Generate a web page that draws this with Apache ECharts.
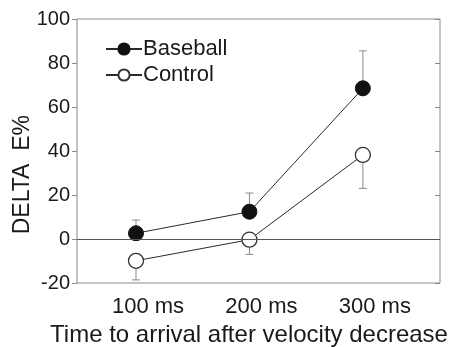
<!DOCTYPE html>
<html><head><meta charset="utf-8">
<script src="https://cdn.jsdelivr.net/npm/echarts@6/dist/echarts.min.js"></script>
<style>html,body{margin:0;padding:0;background:#fff}#c{width:456px;height:347px}</style>
</head><body><div id="c"></div>
<script>
const times = [100, 200, 300];
const tickLabels = ['100 ms', '200 ms', '300 ms'];
const baseball = [2.6, 12.4, 68.5];
const baseballErrUp = [6.0, 8.5, 17.0];
const control = [-9.9, -0.3, 38.2];
const controlErrDown = [8.7, 6.7, 15.2];

const FONT = 'Liberation Sans, Arial, sans-serif';
const chart = echarts.init(document.getElementById('c'), null, {renderer: 'canvas'});

function errData(means, errs, sign) {
  return times.map((t, i) => [t, means[i], means[i] + sign * errs[i]]);
}
function errRender(params, api) {
  const x = api.value(0);
  const p0 = api.coord([x, api.value(1)]);
  const p1 = api.coord([x, api.value(2)]);
  const cw = 4;
  const st = {stroke: '#8a8a8a', lineWidth: 1};
  return {type: 'group', children: [
    {type: 'line', shape: {x1: p0[0], y1: p0[1], x2: p1[0], y2: p1[1]}, style: st},
    {type: 'line', shape: {x1: p1[0] - cw, y1: p1[1], x2: p1[0] + cw, y2: p1[1]}, style: st}
  ]};
}

chart.setOption({
  animation: false,
  grid: {left: 77, right: 16, top: 19, bottom: 64, show: true, borderColor: '#8a8a8a', borderWidth: 1,
    containLabel: false, outerBoundsMode: 'none'},
  legend: {
    orient: 'vertical', left: 100, top: 33, itemGap: 4, itemWidth: 36, itemHeight: 14,
    textStyle: {fontFamily: FONT, fontSize: 22, color: '#1a1a1a', padding: [0, 0, 0, -4]},
    data: ['Baseball', 'Control']
  },
  xAxis: {
    type: 'value', min: 48, max: 368,
    axisLine: {show: false}, axisTick: {show: false}, splitLine: {show: false},
    axisLabel: {customValues: times, formatter: v => tickLabels[times.indexOf(v)], margin: 13,
      fontFamily: FONT, fontSize: 22, color: '#1a1a1a', padding: [0, 0, 0, 24]},
    name: 'Time to arrival after velocity decrease', nameLocation: 'middle', nameGap: 37,
    nameTextStyle: {fontFamily: FONT, fontSize: 24, color: '#1a1a1a', padding: [0, 19, 0, 0]}
  },
  yAxis: [{
    type: 'value', min: -20, max: 100, interval: 20,
    axisLine: {show: false}, splitLine: {show: false},
    axisTick: {show: true, inside: false, length: 5, lineStyle: {color: '#8a8a8a'}},
    axisLabel: {margin: 7, fontFamily: FONT, fontSize: 20, color: '#1a1a1a', formatter: v => String(v)}
  }, {
    type: 'value', position: 'right', min: -20, max: 100, interval: 20,
    axisLine: {show: false}, splitLine: {show: false},
    axisTick: {show: true, inside: true, length: 5, lineStyle: {color: '#8a8a8a'}},
    axisLabel: {show: false}
  }],
  graphic: [{
    type: 'text', left: 11, top: 115, rotation: Math.PI / 2,
    style: {text: 'DELTA  E%', fontFamily: FONT, fontSize: 23, fill: '#1a1a1a'}
  }],
  series: [
    {type: 'custom', data: errData(baseball, baseballErrUp, 1), renderItem: errRender, z: 1, silent: true},
    {type: 'custom', data: errData(control, controlErrDown, -1), renderItem: errRender, z: 1, silent: true},
    {
      name: 'Baseball', type: 'line', data: times.map((t, i) => [t, baseball[i]]),
      symbol: 'circle', symbolSize: 15, z: 3,
      lineStyle: {color: '#2a2a2a', width: 1},
      itemStyle: {color: '#111', borderColor: '#111', borderWidth: 1},
      markLine: {silent: true, symbol: 'none', label: {show: false},
        lineStyle: {color: '#555', width: 1, type: 'solid'}, data: [{yAxis: 0}]}
    },
    {
      name: 'Control', type: 'line', data: times.map((t, i) => [t, control[i]]),
      symbol: 'circle', symbolSize: 15, z: 3,
      lineStyle: {color: '#2a2a2a', width: 1},
      itemStyle: {color: '#fff', borderColor: '#333', borderWidth: 1.3}
    }
  ]
});
</script></body></html>
